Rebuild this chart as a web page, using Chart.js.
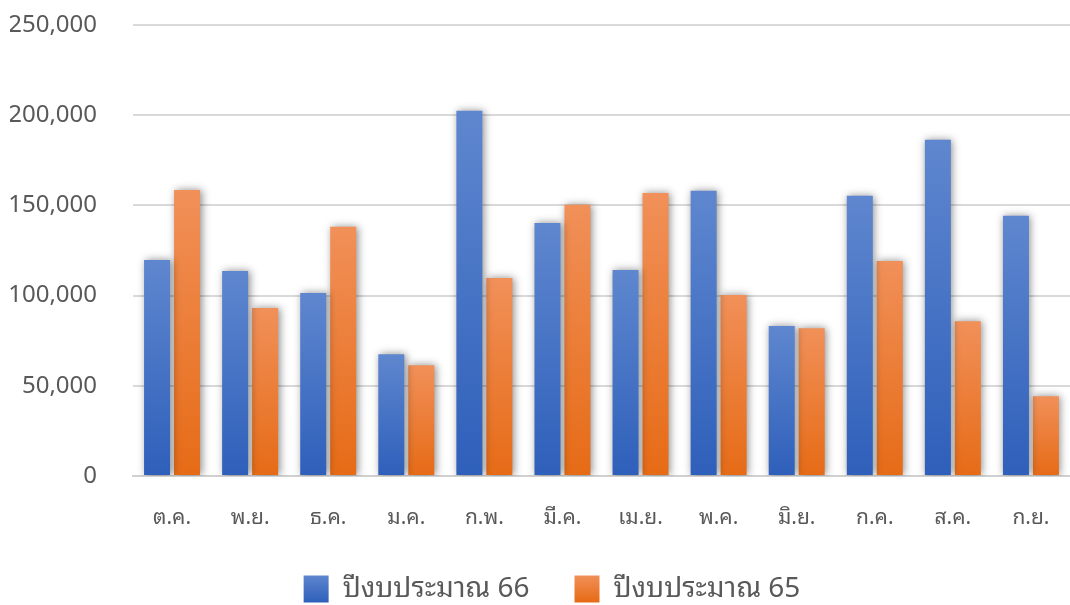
<!DOCTYPE html>
<html>
<head>
<meta charset="utf-8">
<script src="https://cdn.jsdelivr.net/npm/chart.js@4/dist/chart.umd.min.js"></script>
<style>
  html, body { margin: 0; padding: 0; background: #ffffff; }
  #wrap { width: 1070px; height: 605px; position: relative; }
</style>
</head>
<body>
<div id="wrap"><canvas id="chart"></canvas></div>
<script>
// Monthly figures, fiscal year order (Oct - Sep)
const months = ['ต.ค.', 'พ.ย.', 'ธ.ค.', 'ม.ค.', 'ก.พ.', 'มี.ค.', 'เม.ย.', 'พ.ค.', 'มิ.ย.', 'ก.ค.', 'ส.ค.', 'ก.ย.'];
const fy66 = [119700, 113600, 101400, 67500, 202500, 140300, 114200, 158100, 83100, 155300, 186400, 144200];
const fy65 = [158600, 93100, 138100, 61400, 109700, 150300, 156900, 100300, 81900, 119200, 85800, 44200];
const seriesNames = ['ปีงบประมาณ 66', 'ปีงบประมาณ 65'];
const yTicks = [0, 50000, 100000, 150000, 200000, 250000];

const FONT = '"Noto Sans Thai Looped", "Noto Sans Thai", "Leelawadee UI", "Noto Sans", "Open Sans", sans-serif';
const TEXT = '#595959';
const SHADES = [['#5f87cf', '#2e5fba'], ['#f19059', '#e66b16']];
const LEGEND_PAD = 45;
const LEGEND_BOX = 27;

// per-bar vertical gradient, light at the top, deeper at the base
function barGradient(top, bottom) {
  return function (ctx) {
    const chart = ctx.chart;
    if (ctx.type !== 'data' || !chart.scales.y) return bottom;
    const ys = chart.scales.y;
    const y0 = ys.getPixelForValue(ctx.parsed.y);
    const y1 = ys.getPixelForValue(0);
    if (!Number.isFinite(y0) || !Number.isFinite(y1)) return bottom;
    const g = chart.ctx.createLinearGradient(0, y0, 0, y1);
    g.addColorStop(0, top);
    g.addColorStop(1, bottom);
    return g;
  };
}

// soft drop shadow behind the bars
const barShadow = {
  id: 'barShadow',
  beforeDatasetsDraw(chart) {
    const c = chart.ctx;
    c.save();
    c.shadowColor = 'rgba(0,0,0,0.45)';
    c.shadowBlur = 8;
    c.shadowOffsetX = 1.5;
    c.shadowOffsetY = 0;
  },
  afterDatasetsDraw(chart) {
    chart.ctx.restore();
  }
};

// legend sits close under the axis labels, a little right of centre
const legendPlace = {
  id: 'legendPlace',
  beforeInit(chart) {
    const lg = chart.legend;
    const fit = lg.fit;
    lg.fit = function () {
      fit.call(this);
      this.height = 75;
    };
  },
  afterLayout(chart) {
    const lg = chart.legend;
    lg.left += 12;
    lg.right += 12;
  }
};

new Chart(document.getElementById('chart'), {
  type: 'bar',
  data: {
    labels: months,
    datasets: [
      {
        label: seriesNames[0],
        data: fy66,
        backgroundColor: barGradient(SHADES[0][0], SHADES[0][1]),
        categoryPercentage: 0.768,
        barPercentage: 0.867
      },
      {
        label: seriesNames[1],
        data: fy65,
        backgroundColor: barGradient(SHADES[1][0], SHADES[1][1]),
        categoryPercentage: 0.768,
        barPercentage: 0.867
      }
    ]
  },
  options: {
    responsive: true,
    maintainAspectRatio: false,
    animation: false,
    layout: { padding: { left: 10, right: 0, top: 25, bottom: 0 } },
    plugins: {
      tooltip: { enabled: false },
      legend: {
        position: 'bottom',
        labels: {
          boxWidth: 25,
          boxHeight: LEGEND_BOX,
          padding: LEGEND_PAD,
          color: TEXT,
          font: { family: FONT, size: 28 },
          generateLabels(chart) {
            const lt = chart.legend && Number.isFinite(chart.legend.top) ? chart.legend.top : 0;
            const top = lt + LEGEND_PAD;
            return chart.data.datasets.map((d, i) => {
              const g = chart.ctx.createLinearGradient(0, top, 0, top + LEGEND_BOX);
              g.addColorStop(0, SHADES[i][0]);
              g.addColorStop(1, SHADES[i][1]);
              return {
                text: d.label,
                fillStyle: g,
                strokeStyle: 'rgba(0,0,0,0)',
                lineWidth: 0,
                hidden: false,
                datasetIndex: i,
                fontColor: TEXT
              };
            });
          }
        }
      }
    },
    scales: {
      x: {
        grid: { display: false, drawTicks: false },
        border: { display: true, color: '#d0d0d0', width: 2 },
        ticks: { color: TEXT, font: { family: FONT, size: 21 }, padding: 29 },
        afterFit(scale) {
          scale.height = 54;
          scale.paddingLeft = 0;
          scale.paddingRight = 0;
        }
      },
      y: {
        min: 0,
        max: 250000,
        afterBuildTicks(scale) { scale.ticks = yTicks.map(v => ({ value: v })); },
        grid: { color: '#d9d9d9', lineWidth: 2, drawTicks: false },
        border: { display: false },
        ticks: {
          color: TEXT,
          font: { family: FONT, size: 24 },
          padding: 36,
          callback: v => v.toLocaleString('en-US')
        },
        afterFit(scale) {
          scale.width = 123;
          scale.paddingTop = 0;
          scale.paddingBottom = 0;
        }
      }
    }
  },
  plugins: [barShadow, legendPlace]
});
</script>
</body>
</html>
